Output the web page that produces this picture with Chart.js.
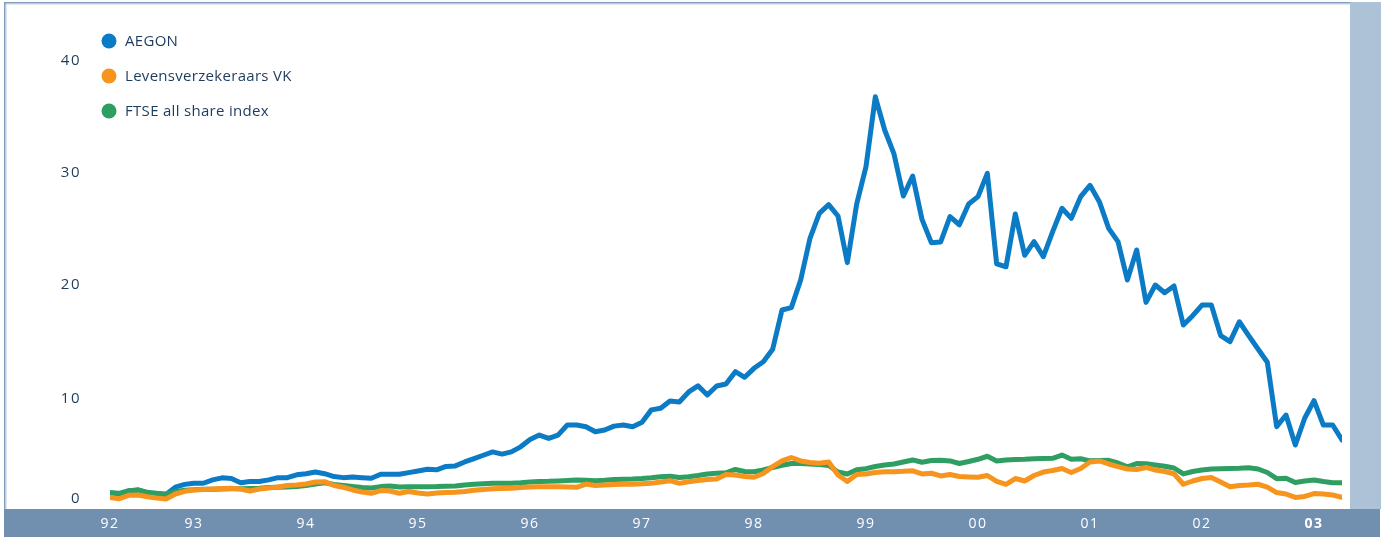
<!DOCTYPE html>
<html>
<head>
<meta charset="utf-8">
<script src="https://cdn.jsdelivr.net/npm/chart.js@4/dist/chart.umd.min.js"></script>
<style>
  html, body { margin: 0; padding: 0; background: #fff; }
  #chart { display: block; }
</style>
</head>
<body>
<canvas id="chart" width="1388" height="537"></canvas>
<script>
// monthly points, April 1992 .. April 2003
const seriesNames = ["AEGON", "Levensverzekeraars VK", "FTSE all share index"];
const seriesColors = ["#0a7bc4", "#f7941d", "#2e9e62"];

const aegon = [
  1.45, 1.35, 1.6, 1.7, 1.45, 1.3, 1.3, 1.95, 2.2, 2.3,
  2.3, 2.6, 2.78, 2.72, 2.35, 2.45, 2.45, 2.6, 2.8, 2.8,
  3.05, 3.15, 3.3, 3.15, 2.9, 2.8, 2.85, 2.8, 2.75, 3.1,
  3.1, 3.1, 3.25, 3.4, 3.55, 3.5, 3.8, 3.85, 4.2, 4.5,
  4.8, 5.1, 4.9, 5.1, 5.55, 6.2, 6.6, 6.3, 6.6, 7.5,
  7.5, 7.35, 6.9, 7.05, 7.4, 7.5, 7.35, 7.75, 8.85, 9.0,
  9.65, 9.55, 10.45, 11.0, 10.18, 10.98, 11.16, 12.26, 11.76, 12.56,
  13.15, 14.26, 17.77, 17.98, 20.45, 24.17, 26.4, 27.17, 26.16, 22.0,
  27.23, 30.57, 36.8, 33.84, 31.7, 27.95, 29.73, 25.86, 23.78, 23.84,
  26.1, 25.38, 27.23, 27.89, 29.97, 21.88, 21.63, 26.34, 22.65, 23.87,
  22.53, 24.76, 26.85, 25.95, 27.89, 28.9, 27.44, 25.06, 23.87, 20.45,
  23.13, 18.45, 20.0, 19.31, 19.91, 16.43, 17.26, 18.21, 18.21, 15.48,
  14.94, 16.72, 15.48, 14.29, 13.1, 7.35, 8.39, 5.71, 8.1, 9.67,
  7.5, 7.5, 6.16
];

const levens = [
  1.04, 0.92, 1.22, 1.25, 1.1, 0.98, 0.89, 1.34, 1.58, 1.7,
  1.74, 1.79, 1.83, 1.85, 1.79, 1.61, 1.79, 1.88, 1.96, 2.1,
  2.14, 2.23, 2.41, 2.44, 2.1, 1.94, 1.7, 1.52, 1.4, 1.65,
  1.61, 1.4, 1.56, 1.43, 1.34, 1.43, 1.47, 1.5, 1.56, 1.68,
  1.74, 1.8, 1.83, 1.85, 1.92, 1.96, 1.99, 1.99, 1.99, 1.96,
  1.94, 2.23, 2.1, 2.14, 2.19, 2.21, 2.21, 2.26, 2.29, 2.41,
  2.53, 2.29, 2.44, 2.54, 2.63, 2.68, 3.08, 3.04, 2.9, 2.83,
  3.17, 3.79, 4.29, 4.6, 4.29, 4.15, 4.08, 4.2, 3.04, 2.46,
  3.08, 3.13, 3.26, 3.33, 3.33, 3.36, 3.41, 3.13, 3.19, 2.95,
  3.08, 2.9, 2.86, 2.83, 2.99, 2.46, 2.19, 2.72, 2.5, 2.99,
  3.3, 3.44, 3.62, 3.26, 3.62, 4.2, 4.29, 4.02, 3.79, 3.57,
  3.53, 3.71, 3.48, 3.35, 3.15, 2.21, 2.5, 2.72, 2.81, 2.41,
  1.99, 2.1, 2.14, 2.21, 1.96, 1.47, 1.34, 1.03, 1.12, 1.38,
  1.34, 1.25, 1.04
];

const ftse = [
  1.46, 1.4, 1.63, 1.7, 1.49, 1.4, 1.34, 1.54, 1.67, 1.72,
  1.76, 1.77, 1.79, 1.8, 1.81, 1.83, 1.86, 1.92, 1.94, 1.96,
  2.0, 2.1, 2.23, 2.35, 2.19, 2.1, 2.0, 1.92, 1.88, 2.0,
  2.05, 1.96, 1.99, 1.99, 1.99, 2.0, 2.04, 2.05, 2.14, 2.2,
  2.25, 2.29, 2.29, 2.29, 2.34, 2.41, 2.46, 2.47, 2.5, 2.54,
  2.59, 2.56, 2.53, 2.56, 2.63, 2.66, 2.68, 2.72, 2.79, 2.88,
  2.92, 2.81, 2.88, 2.99, 3.13, 3.19, 3.23, 3.53, 3.35, 3.33,
  3.48, 3.71, 3.9, 4.06, 4.06, 4.02, 3.97, 3.88, 3.3, 3.13,
  3.51, 3.6, 3.79, 3.93, 4.02, 4.2, 4.38, 4.17, 4.33, 4.36,
  4.29, 4.06, 4.24, 4.44, 4.71, 4.29, 4.38, 4.42, 4.44, 4.48,
  4.51, 4.53, 4.82, 4.44, 4.49, 4.3, 4.33, 4.35, 4.11, 3.77,
  4.06, 4.04, 3.93, 3.82, 3.66, 3.13, 3.35, 3.48, 3.57, 3.6,
  3.62, 3.63, 3.68, 3.57, 3.26, 2.71, 2.74, 2.37, 2.5, 2.59,
  2.46, 2.35, 2.35
];

// year labels and the month index they sit under
const xTickLabels = ["92", "93", "94", "95", "96", "97", "98", "99", "00", "01", "02", "03"];
const xTickPos = [0, 9, 21, 33, 45, 57, 69, 81, 93, 105, 117, 129];
const yTicks = [0, 10, 20, 30, 40];

const FONT = '"Open Sans", "DejaVu Sans", sans-serif';
const NAVY = "#1d3b5c";

function toPoints(arr) {
  return arr.map((v, i) => ({ x: i, y: v }));
}

// frame, right band, bottom axis bar and all the labels
const framePlugin = {
  id: "frame",
  beforeDraw(chart) {
    const { ctx, chartArea } = chart;
    ctx.save();
    // right band
    ctx.fillStyle = "#adc1d7";
    ctx.fillRect(1350, 2, 31, chartArea.bottom - 2);
    // top border
    ctx.fillStyle = "#7f9aba";
    ctx.fillRect(4, 2, 1346, 1.5);
    ctx.fillStyle = "#c3d0df";
    ctx.fillRect(4, 3.5, 1346, 1);
    // left border
    ctx.fillStyle = "#7f9aba";
    ctx.fillRect(4, 2, 1.5, chartArea.bottom - 2);
    ctx.fillStyle = "#c3d0df";
    ctx.fillRect(5.5, 4, 1, chartArea.bottom - 4);
    // bottom axis bar
    ctx.fillStyle = "#7190b0";
    ctx.fillRect(4, chartArea.bottom, 1376, 537 - chartArea.bottom);
    ctx.restore();
  },
  afterDraw(chart) {
    const { ctx, chartArea, scales } = chart;
    ctx.save();
    ctx.letterSpacing = "1.5px";

    // x labels in the bar
    ctx.fillStyle = "#ffffff";
    ctx.textAlign = "center";
    ctx.textBaseline = "middle";
    xTickLabels.forEach((lab, k) => {
      const last = k === xTickLabels.length - 1;
      ctx.font = (last ? "bold " : "") + "14px " + FONT;
      ctx.fillText(lab, scales.x.getPixelForValue(xTickPos[k]), 524);
    });

    // y labels
    ctx.fillStyle = NAVY;
    ctx.font = "15px " + FONT;
    ctx.textAlign = "right";
    yTicks.forEach((v) => {
      const y = Math.min(scales.y.getPixelForValue(v), chartArea.bottom - 10);
      ctx.fillText(String(v), 81, y + (v === 10 ? 2 : 0));
    });

    // legend
    ctx.letterSpacing = "0.3px";
    ctx.textAlign = "left";
    seriesNames.forEach((name, k) => {
      const cy = 41 + k * 35;
      ctx.fillStyle = seriesColors[k];
      ctx.beginPath();
      ctx.arc(109, cy, 7.5, 0, Math.PI * 2);
      ctx.fill();
      ctx.fillStyle = NAVY;
      ctx.font = "15px " + FONT;
      ctx.fillText(name, 125, cy + 1);
    });
    ctx.restore();
  },
};

const ctx = document.getElementById("chart").getContext("2d");
new Chart(ctx, {
  type: "line",
  data: {
    datasets: [
      { label: seriesNames[0], data: toPoints(aegon), borderColor: seriesColors[0], order: 3 },
      { label: seriesNames[1], data: toPoints(levens), borderColor: seriesColors[1], order: 1 },
      { label: seriesNames[2], data: toPoints(ftse), borderColor: seriesColors[2], order: 2 },
    ],
  },
  options: {
    responsive: false,
    animation: false,
    devicePixelRatio: 1,
    layout: { padding: { left: 110, right: 46, top: 61, bottom: 28 } },
    elements: {
      line: { borderWidth: 5, tension: 0, borderJoinStyle: "round", borderCapStyle: "round" },
      point: { radius: 0 },
    },
    plugins: { legend: { display: false }, tooltip: { enabled: false } },
    scales: {
      x: { type: "linear", min: 0, max: aegon.length - 1, display: false },
      y: { min: 0, max: 40, display: false },
    },
  },
  plugins: [framePlugin],
});
</script>
</body>
</html>
